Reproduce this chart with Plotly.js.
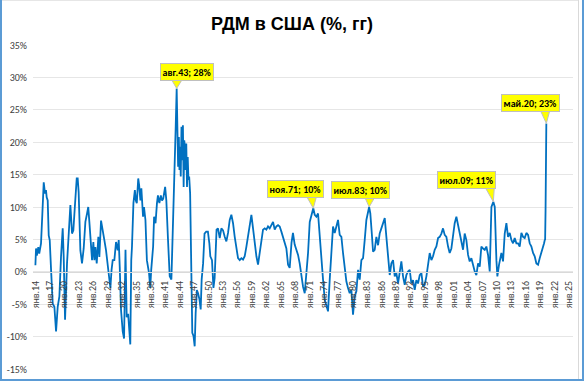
<!DOCTYPE html>
<html>
<head>
<meta charset="utf-8">
<script src="https://cdn.plot.ly/plotly-3.0.1.min.js"></script>
<style>
  html, body { margin: 0; padding: 0; background: #fff; }
  #wrap { position: relative; width: 584px; height: 381px; overflow: hidden; }
  #chart { position: absolute; left: 0; top: 0; width: 584px; height: 381px; }
  .edge { position: absolute; pointer-events: none; }
</style>
</head>
<body>
<div id="wrap">
  <div id="chart"></div>
  <div class="edge" style="left:0;top:0;width:2px;height:381px;background:#5B9BD5"></div>
  <div class="edge" style="left:582px;top:0;width:2px;height:381px;background:#5B9BD5"></div>
  <div class="edge" style="left:0;top:379px;width:584px;height:2px;background:#5B9BD5"></div>
  <div class="edge" style="left:578px;top:0;width:1px;height:379px;background:#D9D9D9"></div>
  <div class="edge" style="left:2px;top:0;width:576px;height:1px;background:#E6E6E6"></div>
</div>
<script>
// Decimal year of each observation
const yearsDec = [
1914.0,1914.13,1914.3,1914.6,1914.8,1915.17,1915.45,1915.73,1916.0,1916.2,1916.35,1916.56,1916.77,1916.98,
1917.26,1917.6,1917.95,1918.3,1918.64,1918.99,1919.33,1919.68,1919.89,1920.17,1920.58,1920.86,1921.28,1921.62,
1921.9,1922.25,1922.6,1922.8,1923.0,1923.36,1923.7,1924.05,1924.4,1924.75,1925.0,1925.23,1925.58,1925.79,
1926.06,1926.27,1926.48,1926.76,1927.1,1927.31,1927.66,1928.0,1928.35,1928.7,1929.05,1929.35,1929.6,1929.85,
1930.09,1930.43,1930.78,1931.13,1931.34,1931.55,1931.82,1932.17,1932.45,1932.75,1933.0,1933.3,1933.75,1933.95,
1934.1,1934.4,1934.7,1934.9,1935.1,1935.4,1935.6,1935.85,1936.05,1936.4,1936.6,1936.9,1937.2,1937.65,1937.9,
1938.1,1938.5,1938.7,1939.0,1939.3,1939.5,1939.8,1940.1,1940.35,1940.6,1941.0,1941.25,1941.6,1941.95,1942.3,
1942.5,1942.8,1943.0,1943.2,1943.4,1943.55,1943.7,1943.85,1943.98,1944.1,1944.25,1944.4,1944.55,1944.7,1944.85,
1944.98,1945.1,1945.25,1945.4,1945.55,1945.7,1945.85,1946.0,1946.2,1946.35,1946.45,1946.65,1946.9,1947.15,
1947.35,1947.6,1947.85,1948.15,1948.4,1948.6,1948.9,1949.2,1949.55,1949.9,1950.2,1950.4,1950.75,1951.05,1951.3,
1951.5,1951.7,1952.0,1952.36,1952.7,1953.05,1953.4,1953.74,1954.09,1954.44,1954.78,1955.13,1955.48,1955.83,
1956.17,1956.52,1956.87,1957.21,1957.56,1957.91,1958.25,1958.6,1958.95,1959.29,1959.64,1959.99,1960.33,1960.68,
1961.03,1961.37,1961.72,1962.07,1962.41,1962.76,1963.11,1963.46,1963.8,1964.15,1964.5,1964.84,1965.19,1965.54,
1965.88,1966.23,1966.58,1966.92,1967.3,1967.6,1967.96,1968.31,1968.66,1969.0,1969.35,1969.7,1970.05,1970.39,
1970.74,1971.09,1971.43,1971.83,1972.13,1972.47,1972.82,1973.17,1973.52,1973.86,1974.21,1974.56,1974.9,1975.25,
1975.6,1975.94,1976.29,1976.64,1976.98,1977.33,1977.68,1978.02,1978.37,1978.72,1979.06,1979.41,1979.76,1980.1,
1980.45,1980.8,1981.15,1981.49,1981.84,1982.19,1982.53,1982.88,1983.45,1983.7,1984.0,1984.27,1984.61,1984.96,
1985.31,1985.65,1986.0,1986.35,1986.7,1987.04,1987.39,1987.74,1988.08,1988.43,1988.78,1989.12,1989.47,1989.82,
1990.16,1990.51,1990.86,1991.2,1991.55,1991.9,1992.24,1992.59,1992.94,1993.28,1993.63,1993.98,1994.33,1994.67,
1995.02,1995.37,1995.71,1996.06,1996.41,1996.75,1997.1,1997.45,1997.8,1998.14,1998.49,1998.83,1999.18,1999.53,
1999.88,2000.22,2000.57,2000.92,2001.26,2001.61,2001.96,2002.3,2002.65,2003.0,2003.34,2003.69,2004.04,2004.38,
2004.73,2005.08,2005.43,2005.77,2006.12,2006.47,2006.81,2007.16,2007.51,2007.85,2008.2,2008.55,2008.9,2009.3,
2009.6,2009.94,2010.14,2010.49,2010.98,2011.32,2011.67,2012.02,2012.36,2012.71,2013.06,2013.4,2013.75,2014.1,
2014.44,2014.79,2015.14,2015.49,2015.83,2016.18,2016.53,2016.87,2017.22,2017.57,2017.91,2018.26,2018.61,2018.95,
2019.3,2019.65,2019.86,2020.0,2020.08,2020.17,2020.25,2020.33
];
// M2 growth, % year over year
const m2Growth = [
1.0,3.6,2.5,3.8,2.8,4.4,9.0,13.8,12.1,12.6,11.5,11.0,5.6,4.9,
0.3,-4.9,-5.4,-9.2,-5.4,-3.8,2.3,6.7,2.3,-7.4,1.3,4.4,10.3,5.9,
6.4,10.5,14.4,14.4,12.3,3.3,1.3,3.6,7.7,9.0,10.0,7.7,3.3,1.8,
4.6,1.8,3.8,1.3,5.4,2.3,7.9,6.7,4.9,3.3,1.3,-0.5,-2.5,0.3,
1.8,1.8,4.6,3.3,4.9,0.8,-5.9,-9.2,-10.3,3.4,-7.0,-6.5,-11.2,1.8,
3.9,10.6,12.6,11.0,10.6,14.4,13.3,11.0,12.9,8.5,10.0,8.0,1.8,-0.2,-2.5,
0.3,3.9,8.5,7.5,10.6,11.8,10.6,11.8,11.0,11.3,13.1,11.0,4.9,-0.7,-1.2,
3.4,10.6,16.2,22.4,28.3,21.8,16.2,20.8,15.7,19.3,14.7,22.4,17.2,22.6,13.1,
20.3,19.3,15.7,19.8,13.1,17.7,14.2,14.7,12.1,5.9,3.4,-9.4,-9.9,-11.5,
-6.4,-2.8,-3.3,-4.3,-5.8,-1.2,1.3,5.9,6.2,6.2,4.4,2.4,1.8,-2.5,-1.0,
3.0,6.5,6.7,5.2,6.7,6.4,5.4,4.7,6.0,8.0,8.8,7.5,5.4,3.4,
2.1,1.8,2.1,1.9,2.4,3.9,5.4,7.5,8.8,6.7,4.4,2.4,1.1,2.9,
5.4,6.5,6.7,6.5,7.0,6.7,7.2,7.7,6.5,7.0,7.2,7.0,6.2,5.4,
4.7,3.6,1.1,0.6,4.5,6.0,4.2,3.4,2.6,1.3,-0.7,-2.3,-3.3,-0.7,
2.9,7.7,8.5,9.8,8.8,8.5,9.0,6.0,2.9,-1.2,-4.3,-5.3,-6.1,-1.2,
3.4,7.0,6.0,7.0,8.0,5.7,5.4,2.9,0.8,-1.5,-2.5,-3.3,-2.8,-6.6,
-3.8,-3.0,0.3,-1.2,1.8,2.1,4.9,8.0,10.0,9.0,6.0,3.1,3.4,5.4,
4.1,5.9,6.7,7.4,8.3,5.4,1.6,-0.5,1.3,1.8,-0.7,-0.2,-1.8,0.3,
1.6,-0.7,-2.0,-0.5,0.05,0.3,-1.8,-1.3,-2.8,-1.3,-1.8,-0.5,-0.2,-2.3,
-2.0,-0.7,0.8,2.9,1.8,2.4,3.4,3.9,5.2,5.4,5.9,6.7,5.7,5.4,
3.9,2.9,3.6,5.9,7.5,8.5,7.2,5.9,4.7,3.4,5.9,4.9,2.6,1.6,
2.1,0.8,0.05,-0.5,1.3,0.8,3.9,3.6,3.4,3.9,2.6,0.05,10.0,10.8,
10.0,1.8,-0.7,1.1,2.9,1.6,5.9,7.5,5.4,6.0,4.9,4.4,5.2,4.4,
4.4,3.9,6.0,5.4,5.2,6.0,5.7,4.4,3.9,2.9,2.4,1.3,1.1,2.1,
2.9,3.9,4.4,4.9,5.0,9.5,17.0,22.9
];
// Axis ticks
const tickYears = [1914,1917,1920,1923,1926,1929,1932,1935,1938,1941,1944,1947,1950,1953,1956,1959,1962,1965,1968,1971,1974,1977,1980,1983,1986,1989,1992,1995,1998,2001,2004,2007,2010,2013,2016,2019,2022,2025];
const tickLabels = ["янв.14","янв.17","янв.20","янв.23","янв.26","янв.29","янв.32","янв.35","янв.38","янв.41","янв.44","янв.47","янв.50","янв.53","янв.56","янв.59","янв.62","янв.65","янв.68","янв.71","янв.74","янв.77","янв.80","янв.83","янв.86","янв.89","янв.92","янв.95","янв.98","янв.01","янв.04","янв.07","янв.10","янв.13","янв.16","янв.19","янв.22","янв.25"];
const yTickVals = [-15,-10,-5,0,5,10,15,20,25,30,35];
const yTickText = ["-15%","-10%","-5%","0%","5%","10%","15%","20%","25%","30%","35%"];
// Callouts
const calloutYears = [1943.4, 1971.83, 1983.45, 2009.3, 2020.33];
const calloutLabels = ["авг.43; 28%","ноя.71; 10%","июл.83; 10%","июл.09; 11%","май.20; 23%"];

const FONT = "Carlito, 'Liberation Sans Narrow', 'Liberation Sans', Arial, sans-serif";
// box-center offsets and wedge base (pixels, relative to the marked point)
const boxDx = [10, -17.6, -8.8, -26.5, -15.8];
const boxDy = [16.7, 19.5, 16.8, 21.7, 20.8];
const wedgeL = [-5.7, -7, -4.3, -8.3, -6.3];
const wedgeR = [6, 3.4, 5.7, 1, 3.7];

const annotations = [];
const shapes = [];
calloutYears.forEach((yr, i) => {
  const idx = yearsDec.indexOf(yr);
  const val = m2Growth[idx];
  const h = boxDy[i] - 7;
  shapes.push({
    type: 'path', xref: 'x', yref: 'y', xsizemode: 'pixel', ysizemode: 'pixel',
    xanchor: yr, yanchor: val, layer: 'above',
    path: `M${wedgeL[i]},${h} L0,0 L${wedgeR[i]},${h}`,
    fillcolor: '#FFFF00', line: {color: '#BFBFBF', width: 1}
  });
  annotations.push({
    x: yr, y: val, xref: 'x', yref: 'y', showarrow: false,
    xshift: boxDx[i], yshift: boxDy[i],
    text: '<b>' + calloutLabels[i] + '</b>',
    font: {family: FONT, size: 10, color: '#000'},
    bgcolor: '#FFFF00', bordercolor: '#BFBFBF', borderwidth: 1, borderpad: 1.5
  });
});

const trace = {
  x: yearsDec, y: m2Growth, type: 'scatter', mode: 'lines',
  line: {color: '#0070C0', width: 1.8}, hoverinfo: 'skip'
};

const layout = {
  width: 584, height: 381,
  margin: {l: 33, r: 11, t: 45, b: 12},
  paper_bgcolor: '#fff', plot_bgcolor: '#fff',
  showlegend: false,
  title: {text: '<b>РДМ в США (%, гг)</b>', font: {family: "'Liberation Sans', Arial, sans-serif", size: 18, color: '#000'},
          x: 0.5, xanchor: 'center', y: 1 - 24/381, yanchor: 'middle', yref: 'container'},
  xaxis: {
    type: 'linear', range: [1913.5, 2025.88], anchor: 'free', position: 15/50,
    tickmode: 'array', tickvals: tickYears, ticktext: tickLabels, tickangle: -90,
    tickfont: {family: FONT, size: 10, color: '#404040'}, ticks: '', showgrid: false,
    showline: true, linecolor: '#D9D9D9', linewidth: 1, zeroline: false, ticklabelstandoff: 4
  },
  yaxis: {
    range: [-15, 35], tickmode: 'array', tickvals: yTickVals, ticktext: yTickText,
    tickfont: {family: FONT, size: 10, color: '#404040'}, ticks: '',
    showgrid: true, gridcolor: '#E6E6E6', gridwidth: 1, zeroline: false, showline: false,
    ticklabelstandoff: 5
  },
  annotations: annotations,
  shapes: shapes
};

Plotly.newPlot('chart', [trace], layout, {displayModeBar: false, staticPlot: true});
</script>
</body>
</html>
